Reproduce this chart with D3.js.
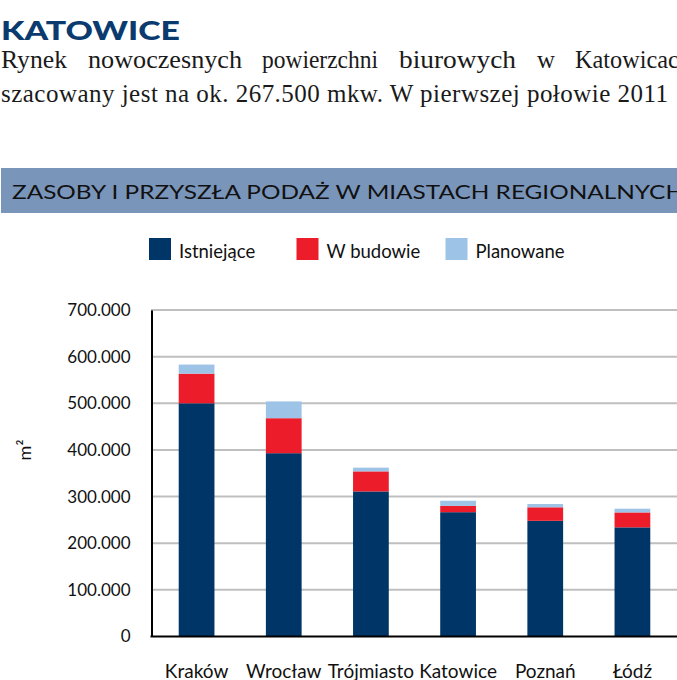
<!DOCTYPE html>
<html lang="pl">
    <head>
        <meta charset="utf-8">
        <title>Zasoby i przyszła podaż w miastach regionalnych</title>
        <style>
            body { margin: 0; background: #fff; }
            svg { display: block; }
            .sans { font-family: Lato, "Noto Sans", sans-serif; }
            .serif { font-family: "Liberation Serif", "DejaVu Serif", serif; }
            .grid line { stroke: #bfbfbf; stroke-width: 2px; }
        </style>
        <script src="https://d3js.org/d3.v7.min.js"></script>
    </head>
    <body>
        <div id="chart"></div>
        <script>
            // data (m2)
            var cities = ["Kraków", "Wrocław", "Trójmiasto", "Katowice", "Poznań", "Łódź"];
            var existing = [500000, 393000, 311000, 266500, 248000, 234000];
            var underConstruction = [63500, 75000, 43000, 13500, 29000, 32000];
            var planned = [19500, 36000, 8000, 11000, 7000, 8000];
            var seriesNames = ["Istniejące", "W budowie", "Planowane"];
            var yTicks = [0, 100000, 200000, 300000, 400000, 500000, 600000, 700000];

            var colors = ["#003567", "#ed1c2a", "#9dc3e6"];

            var W = 677, H = 680;
            var svg = d3.select("#chart").append("svg")
                .attr("width", W)
                .attr("height", H);

            // --- text above the chart
            svg.append("text")
                .attr("class", "sans")
                .attr("x", 1)
                .attr("y", 40)
                .attr("font-size", 26)
                .attr("font-weight", 900)
                .attr("fill", "#0a3a6e")
                .attr("textLength", 179)
                .attr("lengthAdjust", "spacingAndGlyphs")
                .text("KATOWICE");

            // first line is justified, so every word sits on its own
            var line1 = ["Rynek", "nowoczesnych", "powierzchni", "biurowych", "w", "Katowicach"];
            var line1X = [1, 88, 262, 399, 537, 575];
            var line1W = [66, 154, 116, 117, 18, 116];
            svg.append("g").selectAll("text")
                .data(line1)
                .join("text")
                .attr("class", "serif")
                .attr("x", function(d, i) { return line1X[i]; })
                .attr("y", 68)
                .attr("font-size", 25)
                .attr("fill", "#1a1a1a")
                .attr("textLength", function(d, i) { return line1W[i]; })
                .attr("lengthAdjust", "spacingAndGlyphs")
                .text(function(d) { return d; });

            svg.append("text")
                .attr("class", "serif")
                .attr("x", 1)
                .attr("y", 102)
                .attr("font-size", 25)
                .attr("fill", "#1a1a1a")
                .attr("textLength", 667)
                .attr("lengthAdjust", "spacing")
                .text("szacowany jest na ok. 267.500 mkw. W pierwszej połowie 2011");

            // header band
            svg.append("rect")
                .attr("x", 1)
                .attr("y", 168)
                .attr("width", W)
                .attr("height", 45)
                .attr("fill", "#7a95ba");

            svg.append("text")
                .attr("class", "sans")
                .attr("x", 12)
                .attr("y", 198.5)
                .attr("font-size", 19)
                .attr("fill", "#111")
                .attr("textLength", 672)
                .attr("lengthAdjust", "spacingAndGlyphs")
                .text("ZASOBY I PRZYSZŁA PODAŻ W MIASTACH REGIONALNYCH");

            // legend
            var legendX = [149, 296.5, 445.5];
            var legend = svg.append("g").selectAll("g")
                .data(seriesNames)
                .join("g")
                .attr("transform", function(d, i) { return "translate(" + legendX[i] + ",238)"; });
            legend.append("rect")
                .attr("width", 22)
                .attr("height", 22)
                .attr("fill", function(d, i) { return colors[i]; });
            legend.append("text")
                .attr("class", "sans")
                .attr("x", 30)
                .attr("y", 20)
                .attr("font-size", 18.5)
                .attr("fill", "#111")
                .text(function(d) { return d; });

            // --- chart
            var x = d3.scaleBand()
                .domain(cities)
                .range([153, 676])
                .paddingInner(0.59)
                .paddingOuter(0.295);

            var y = d3.scaleLinear()
                .domain([0, 700000])
                .range([636.5, 310]);

            var plLocale = d3.formatLocale({decimal: ",", thousands: ".", grouping: [3], currency: ["", " zł"]});
            var fmt = plLocale.format(",");

            svg.append("g")
                .attr("class", "grid")
                .selectAll("line")
                .data(yTicks.slice(1))
                .join("line")
                .attr("x1", 151)
                .attr("x2", W + 10)
                .attr("y1", function(d) { return y(d); })
                .attr("y2", function(d) { return y(d); });

            var table = cities.map(function(c, i) {
                return {city: c, "Istniejące": existing[i], "W budowie": underConstruction[i], "Planowane": planned[i]};
            });
            var stacked = d3.stack().keys(seriesNames)(table);

            svg.append("g").selectAll("g")
                .data(stacked)
                .join("g")
                .attr("fill", function(d, i) { return colors[i]; })
                .selectAll("rect")
                .data(function(d) { return d; })
                .join("rect")
                .attr("x", function(d) { return x(d.data.city); })
                .attr("width", x.bandwidth())
                .attr("y", function(d) { return y(d[1]); })
                .attr("height", function(d) { return y(d[0]) - y(d[1]); });

            var yAxis = svg.append("g")
                .attr("transform", "translate(151.5,0)")
                .call(d3.axisLeft(y).tickValues(yTicks).tickSize(0).tickPadding(21).tickFormat(fmt));
            yAxis.select(".domain").attr("stroke", "#000").attr("stroke-width", 2);
            yAxis.selectAll("text")
                .attr("class", "sans")
                .attr("font-size", 17)
                .attr("fill", "#111");

            var xAxis = svg.append("g")
                .attr("transform", "translate(0,636.5)")
                .call(d3.axisBottom(x).tickSize(0).tickPadding(0));
            xAxis.select(".domain")
                .attr("d", "M150.5,0H" + (W + 10))
                .attr("stroke", "#000")
                .attr("stroke-width", 2);
            xAxis.selectAll("text")
                .attr("class", "sans")
                .attr("font-size", 19)
                .attr("fill", "#111")
                .attr("dy", null)
                .attr("y", 41.5);

            svg.append("text")
                .attr("class", "sans")
                .attr("transform", "translate(31,450) rotate(-90)")
                .attr("text-anchor", "middle")
                .attr("font-size", 18)
                .attr("fill", "#111")
                .text("m²");
        </script>
    </body>
</html>
